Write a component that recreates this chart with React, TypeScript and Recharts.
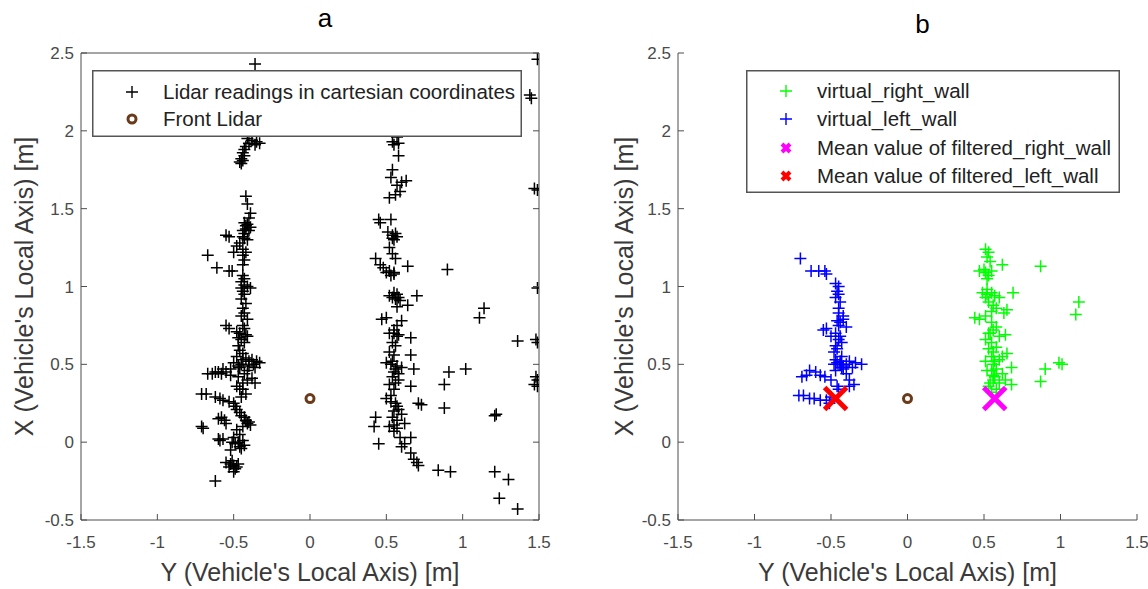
import React from 'react';
import { ScatterChart, Scatter, XAxis, YAxis, Legend } from 'recharts';

const FONT = '"Liberation Sans", Arial, Helvetica, sans-serif';
const AX = '#4d4d4d';
const TICKC = '#4a4a4a';
const LABC = '#3a3a3a';

const xTicks = [-1.5, -1, -0.5, 0, 0.5, 1, 1.5];
const yTicks = [-0.5, 0, 0.5, 1, 1.5, 2, 2.5];
const titleA = 'a';
const titleB = 'b';
const xLabel = "Y (Vehicle's Local Axis) [m]";
const yLabel = "X (Vehicle's Local Axis) [m]";
const legendA = ['Lidar readings in cartesian coordinates', 'Front Lidar'];
const legendB = ['virtual_right_wall', 'virtual_left_wall', 'Mean value of filtered_right_wall', 'Mean value of filtered_left_wall'];

// [Y (lateral), X (forward)]
const lidarLeftA: [number, number][] = [
  [-0.36, 2.43],
  [-0.41, 1.95], [-0.38, 1.94], [-0.35, 1.93], [-0.33, 1.92], [-0.40, 1.92], [-0.36, 1.91], [-0.42, 1.90], [-0.43, 1.88],
  [-0.44, 1.86], [-0.43, 1.84], [-0.45, 1.82], [-0.46, 1.80], [-0.45, 1.79], [-0.44, 1.81],
  [-0.42, 1.58], [-0.41, 1.53], [-0.39, 1.47], [-0.40, 1.44], [-0.43, 1.41], [-0.41, 1.40], [-0.39, 1.38], [-0.42, 1.37],
  [-0.44, 1.36], [-0.43, 1.34], [-0.55, 1.33], [-0.53, 1.32], [-0.43, 1.31], [-0.41, 1.30], [-0.46, 1.28], [-0.48, 1.26],
  [-0.44, 1.24], [-0.50, 1.22], [-0.42, 1.22], [-0.44, 1.20], [-0.67, 1.20], [-0.43, 1.17], [-0.44, 1.14], [-0.61, 1.12],
  [-0.53, 1.10], [-0.51, 1.10], [-0.44, 1.07], [-0.43, 1.05], [-0.45, 1.03], [-0.43, 1.01], [-0.41, 1.00], [-0.45, 0.99],
  [-0.39, 0.99], [-0.44, 0.97],
  [-0.43, 0.95], [-0.45, 0.92], [-0.42, 0.89], [-0.44, 0.86], [-0.43, 0.83], [-0.45, 0.81], [-0.41, 0.79], [-0.55, 0.75],
  [-0.53, 0.73], [-0.48, 0.71], [-0.46, 0.70], [-0.41, 0.68], [-0.45, 0.66], [-0.43, 0.64], [-0.47, 0.62], [-0.46, 0.59],
  [-0.44, 0.57], [-0.48, 0.55], [-0.42, 0.54], [-0.38, 0.53], [-0.35, 0.52], [-0.33, 0.51], [-0.50, 0.51], [-0.45, 0.50],
  [-0.40, 0.49], [-0.36, 0.48], [-0.57, 0.47], [-0.62, 0.45], [-0.60, 0.45], [-0.67, 0.44], [-0.64, 0.44], [-0.43, 0.44],
  [-0.47, 0.42], [-0.38, 0.41], [-0.36, 0.38], [-0.44, 0.38], [-0.48, 0.36], [-0.46, 0.34], [-0.71, 0.31], [-0.68, 0.31],
  [-0.62, 0.29], [-0.59, 0.28], [-0.57, 0.27], [-0.53, 0.26], [-0.50, 0.25], [-0.49, 0.23], [-0.48, 0.21], [-0.46, 0.19],
  [-0.45, 0.17], [-0.43, 0.16], [-0.42, 0.14], [-0.41, 0.12], [-0.60, 0.15], [-0.56, 0.14], [-0.55, 0.12], [-0.71, 0.10],
  [-0.70, 0.09], [-0.48, 0.08], [-0.46, 0.05], [-0.50, 0.03], [-0.57, 0.02], [-0.59, 0.01], [-0.44, 0.01], [-0.43, -0.02],
  [-0.45, -0.04], [-0.52, -0.05], [-0.49, -0.01], [-0.55, -0.13], [-0.52, -0.14], [-0.50, -0.15], [-0.48, -0.16],
  [-0.47, -0.14], [-0.50, -0.19], [-0.62, -0.25], [-0.58, 0.16], [-0.46, 0.48], [-0.52, 0.47],
  [-0.40, 0.52], [-0.44, 0.53], [-0.37, 0.50], [-0.47, 0.49], [-0.41, 0.46], [-0.55, 0.45], [-0.58, 0.44], [-0.52, 0.43],
  [-0.44, 0.34], [-0.42, 0.31], [-0.45, 0.29], [-0.40, 0.13], [-0.39, 0.11], [-0.44, 0.10], [-0.51, 0.00], [-0.47, 0.00],
  [-0.46, -0.03], [-0.53, -0.16], [-0.49, -0.17], [-0.51, -0.12], [-0.43, 0.73], [-0.44, 0.75], [-0.42, 0.69], [-0.47, 0.67],
  [-0.42, 1.39], [-0.40, 1.36], [-0.44, 1.32], [-0.60, 0.02], [-0.41, 0.40],
];

const lidarRightA: [number, number][] = [
  [0.57, 1.96], [0.54, 1.93], [0.58, 1.92], [0.55, 1.91], [0.58, 1.84], [0.54, 1.75], [0.53, 1.70], [0.63, 1.68],
  [0.60, 1.67], [0.57, 1.65], [0.59, 1.61], [0.56, 1.59], [0.52, 1.57], [0.45, 1.43], [0.46, 1.41], [0.53, 1.43],
  [0.51, 1.35], [0.54, 1.33], [0.57, 1.32], [0.55, 1.30], [0.52, 1.25], [0.54, 1.21], [0.56, 1.18], [0.43, 1.18],
  [0.46, 1.14], [0.48, 1.12], [0.64, 1.13], [0.52, 1.10], [0.55, 1.08], [0.50, 1.09], [0.90, 1.11], [0.55, 0.96],
  [0.57, 0.95], [0.52, 0.94], [0.54, 0.93], [0.70, 0.94], [0.59, 0.91], [0.64, 0.88], [0.57, 0.87], [0.47, 0.79],
  [0.50, 0.80], [0.60, 0.78], [0.57, 0.75], [0.55, 0.72], [0.52, 0.70], [0.58, 0.69], [0.66, 0.67], [0.54, 0.64],
  [0.56, 0.62], [0.52, 0.58], [0.55, 0.56], [0.66, 0.56], [0.50, 0.51], [0.53, 0.50], [0.57, 0.49], [0.60, 0.48],
  [0.68, 0.47], [0.55, 0.45], [0.54, 0.42], [0.58, 0.40], [0.52, 0.37], [0.66, 0.36], [0.55, 0.34], [0.50, 0.28],
  [0.53, 0.26], [0.71, 0.25], [0.73, 0.24], [0.57, 0.23], [0.55, 0.20], [0.60, 0.18], [0.43, 0.16], [0.54, 0.16],
  [0.57, 0.14], [0.42, 0.10], [0.52, 0.10], [0.62, 0.12], [0.55, 0.07], [0.59, 0.03], [0.45, -0.01], [0.62, -0.01],
  [0.60, -0.03], [0.66, -0.07], [0.68, -0.11], [0.70, -0.13], [0.71, -0.15], [0.66, 0.03],
  [0.56, 0.92], [0.58, 0.93], [0.55, 0.70], [0.57, 0.68], [0.54, 0.52], [0.56, 0.47], [0.58, 0.44], [0.56, 0.38],
  [0.53, 0.30], [0.56, 0.25], [0.58, 0.21], [0.55, 0.11], [0.57, 0.09], [0.54, 1.31], [0.56, 1.34], [0.55, 1.09],
  [0.53, 1.07],
];

const lidarFarA: [number, number][] = [
  [1.49, 2.46], [1.44, 2.23], [1.45, 2.21], [1.47, 1.63], [1.49, 1.62], [1.49, 0.99], [1.14, 0.86], [1.11, 0.80],
  [1.36, 0.65], [1.48, 0.66], [1.49, 0.64], [1.02, 0.47], [0.91, 0.45], [0.88, 0.37], [1.48, 0.42], [1.49, 0.40],
  [1.47, 0.37], [1.49, 0.36], [0.88, 0.22], [1.22, 0.18], [1.21, 0.17], [0.84, -0.18], [0.92, -0.19], [1.21, -0.19],
  [1.30, -0.24], [1.24, -0.36], [1.36, -0.43],
];

const frontLidar: [number, number][] = [[0, 0.28]];

const leftWallB: [number, number][] = [
  [-0.70, 1.18], [-0.63, 1.10], [-0.58, 1.10], [-0.54, 1.10], [-0.53, 1.08], [-0.47, 1.02], [-0.45, 1.00], [-0.46, 0.97],
  [-0.45, 0.95], [-0.47, 0.93], [-0.44, 0.90], [-0.45, 0.86], [-0.45, 0.83], [-0.42, 0.81], [-0.42, 0.79], [-0.44, 0.77],
  [-0.40, 0.74], [-0.55, 0.72], [-0.53, 0.73], [-0.47, 0.70], [-0.50, 0.68], [-0.45, 0.66], [-0.43, 0.64], [-0.47, 0.62],
  [-0.46, 0.60], [-0.48, 0.58], [-0.47, 0.53], [-0.44, 0.52], [-0.38, 0.52], [-0.34, 0.51], [-0.30, 0.50], [-0.48, 0.50],
  [-0.42, 0.49], [-0.36, 0.48], [-0.42, 0.47], [-0.47, 0.46], [-0.64, 0.46], [-0.60, 0.45], [-0.69, 0.42], [-0.66, 0.43],
  [-0.57, 0.43], [-0.54, 0.42], [-0.50, 0.40], [-0.38, 0.40], [-0.35, 0.37], [-0.38, 0.36], [-0.45, 0.34], [-0.46, 0.36],
  [-0.71, 0.30], [-0.68, 0.30], [-0.64, 0.28], [-0.61, 0.28], [-0.57, 0.27], [-0.53, 0.27], [-0.50, 0.29], [-0.51, 0.25],
  [-0.43, 0.55], [-0.40, 0.44],
  [-0.46, 0.51], [-0.44, 0.50], [-0.40, 0.50], [-0.43, 0.48], [-0.45, 0.75], [-0.46, 0.78], [-0.44, 0.68],
];

const rightWallB: [number, number][] = [
  [0.51, 1.24], [0.53, 1.22], [0.52, 1.19], [0.54, 1.16], [0.62, 1.14], [0.87, 1.13], [0.47, 1.10], [0.50, 1.11],
  [0.51, 1.09], [0.53, 1.07], [0.55, 1.10], [0.52, 1.05], [0.49, 0.96], [0.52, 0.95], [0.55, 0.96], [0.57, 0.94],
  [0.69, 0.96], [0.60, 0.93], [1.12, 0.90], [1.10, 0.82], [0.51, 0.93], [0.53, 0.90], [0.56, 0.88], [0.58, 0.86],
  [0.63, 0.83], [0.65, 0.85], [0.44, 0.80], [0.47, 0.79], [0.51, 0.81], [0.55, 0.77], [0.56, 0.72], [0.58, 0.74],
  [0.53, 0.70], [0.64, 0.69], [0.60, 0.68], [0.51, 0.66], [0.55, 0.64], [0.58, 0.61], [0.53, 0.60], [0.65, 0.57],
  [0.62, 0.55], [0.55, 0.55], [0.51, 0.52], [0.56, 0.50], [0.60, 0.53], [0.58, 0.47], [0.68, 0.48], [0.52, 0.46],
  [0.56, 0.43], [0.62, 0.44], [0.56, 0.40], [0.53, 0.36], [0.60, 0.38], [0.68, 0.37], [0.64, 0.40], [1.01, 0.50],
  [0.99, 0.51], [0.90, 0.47], [0.87, 0.39], [0.58, 0.34], [0.55, 0.32],
  [0.54, 0.70], [0.56, 0.58], [0.57, 0.52], [0.55, 0.46], [0.57, 0.42], [0.54, 0.38], [0.55, 0.84], [0.52, 0.98],
];

const meanRight: [number, number][] = [[0.57, 0.28]];
const meanLeft: [number, number][] = [[-0.47, 0.28]];

const toPts = (arr: [number, number][]) => arr.map(([y, x]) => ({ y, x }));

const fmt = (v: number) => String(v);

const plusShape = (color: string, arm = 6, sw = 1.5) => (p: any) => {
  const { cx, cy } = p;
  if (cx == null || cy == null) return <g />;
  return (
    <path d={`M${cx - arm},${cy}H${cx + arm}M${cx},${cy - arm}V${cy + arm}`} stroke={color} strokeWidth={sw} fill="none" />
  );
};
const crossShape = (color: string, arm = 11, sw = 5) => (p: any) => {
  const { cx, cy } = p;
  if (cx == null || cy == null) return <g />;
  return (
    <path d={`M${cx - arm},${cy - arm}L${cx + arm},${cy + arm}M${cx + arm},${cy - arm}L${cx - arm},${cy + arm}`} stroke={color} strokeWidth={sw} fill="none" />
  );
};
const ringShape = (p: any) => {
  const { cx, cy } = p;
  if (cx == null || cy == null) return <g />;
  return <circle cx={cx} cy={cy} r={4} fill="#fff" stroke="#6b3a1a" strokeWidth={3} />;
};

const LeftTick = (p: any) => {
  const { x, y, payload } = p;
  return (
    <g>
      <line x1={x} y1={y} x2={x + 6} y2={y} stroke={AX} strokeWidth={1} />
      <text x={x - 7} y={y} dy="0.36em" textAnchor="end" fontSize={17} fill={TICKC} fontFamily={FONT}>{fmt(payload.value)}</text>
    </g>
  );
};
const BottomTick = (p: any) => {
  const { x, y, payload } = p;
  return (
    <g>
      <line x1={x} y1={y} x2={x} y2={y - 6} stroke={AX} strokeWidth={1} />
      <text x={x} y={y + 28} textAnchor="middle" fontSize={17} fill={TICKC} fontFamily={FONT}>{fmt(payload.value)}</text>
    </g>
  );
};
const TopTick = (p: any) => {
  const { x, y } = p;
  return <line x1={x} y1={y} x2={x} y2={y + 6} stroke={AX} strokeWidth={1} />;
};
const RightTick = (p: any) => {
  const { x, y } = p;
  return <line x1={x} y1={y} x2={x - 6} y2={y} stroke={AX} strokeWidth={1} />;
};

const xLabelContent = (p: any) => {
  const vb = p.viewBox || {};
  return (
    <text x={vb.x + vb.width / 2} y={vb.y + 61} textAnchor="middle" fontSize={25} fill={LABC} fontFamily={FONT}>{xLabel}</text>
  );
};
const yLabelContent = (off: number) => (p: any) => {
  const vb = p.viewBox || {};
  const cx = vb.x + (vb.width || 0) - off;
  const cy = vb.y + vb.height / 2;
  return (
    <text x={cx} y={cy} transform={`rotate(-90 ${cx} ${cy})`} textAnchor="middle" fontSize={25} fill={LABC} fontFamily={FONT}>{yLabel}</text>
  );
};
const titleContent = (t: string, base: number) => (p: any) => {
  const vb = p.viewBox || {};
  return (
    <text x={vb.x + vb.width / 2 + 15} y={base} textAnchor="middle" fontSize={26} fill="#000" fontFamily={FONT}>{t}</text>
  );
};

type Row = { label: string; kind: 'plus' | 'ring' | 'cross'; color: string; cy: number };

const LegendBox = ({ rows, width, height }: { rows: Row[]; width: number; height: number }) => (
  <svg width={width} height={height} style={{ display: 'block' }}>
    <rect x={0.75} y={0.75} width={width - 1.5} height={height - 1.5} fill="#fff" stroke="#555" strokeWidth={1.5} />
    {rows.map((r, i) => {
      const mx = 40;
      let marker: React.ReactNode = null;
      if (r.kind === 'plus') marker = <path d={`M${mx - 6},${r.cy}H${mx + 6}M${mx},${r.cy - 6}V${r.cy + 6}`} stroke={r.color} strokeWidth={1.4} />;
      if (r.kind === 'ring') marker = <circle cx={mx} cy={r.cy} r={4} fill="#fff" stroke={r.color} strokeWidth={3} />;
      if (r.kind === 'cross') marker = <path d={`M${mx - 4},${r.cy - 4}L${mx + 4},${r.cy + 4}M${mx + 4},${r.cy - 4}L${mx - 4},${r.cy + 4}`} stroke={r.color} strokeWidth={4} />;
      return (
        <g key={i}>
          {marker}
          <text x={71} y={r.cy + 7} fontSize={20.5} fill="#222" fontFamily={FONT}>{r.label}</text>
        </g>
      );
    })}
  </svg>
);

const rowsA: Row[] = [
  { label: legendA[0], kind: 'plus', color: '#000', cy: 22 },
  { label: legendA[1], kind: 'ring', color: '#6b3a1a', cy: 49 },
];
const rowsB: Row[] = [
  { label: legendB[0], kind: 'plus', color: '#00ff00', cy: 21 },
  { label: legendB[1], kind: 'plus', color: '#0000ff', cy: 49 },
  { label: legendB[2], kind: 'cross', color: '#ff00ff', cy: 78 },
  { label: legendB[3], kind: 'cross', color: '#ff0000', cy: 106 },
];

export default function App() {
  return (
    <div style={{ position: 'absolute', left: 0, top: 0, width: 1148, height: 589, background: '#fff' }}>
      <div style={{ position: 'absolute', left: 0, top: 0 }}>
        <ScatterChart width={574} height={589} margin={{ top: 52, right: 34, bottom: 68, left: 80 }}>
          <XAxis type="number" dataKey="y" domain={[-1.5, 1.5]} ticks={xTicks} height={1} tickSize={0} tickMargin={0}
            tickLine={false} tick={BottomTick} axisLine={{ stroke: AX }} allowDataOverflow label={xLabelContent} interval={0} />
          <XAxis xAxisId="top" orientation="top" type="number" domain={[-1.5, 1.5]} ticks={xTicks} height={1} tickSize={0}
            tickMargin={0} tickLine={false} tick={TopTick} axisLine={{ stroke: AX }} allowDataOverflow label={titleContent(titleA, 27)} interval={0} />
          <YAxis type="number" dataKey="x" domain={[-0.5, 2.5]} ticks={yTicks} width={1} tickSize={0} tickMargin={0}
            tickLine={false} tick={LeftTick} axisLine={{ stroke: AX }} allowDataOverflow label={yLabelContent(48)} interval={0} />
          <YAxis yAxisId="right" orientation="right" type="number" domain={[-0.5, 2.5]} ticks={yTicks} width={1} tickSize={0}
            tickMargin={0} tickLine={false} tick={RightTick} axisLine={{ stroke: AX }} allowDataOverflow interval={0} />
          <Scatter data={toPts(lidarLeftA)} shape={plusShape('#000')} isAnimationActive={false} />
          <Scatter data={toPts(lidarRightA)} shape={plusShape('#000')} isAnimationActive={false} />
          <Scatter data={toPts(lidarFarA)} shape={plusShape('#000')} isAnimationActive={false} />
          <Scatter data={toPts(frontLidar)} shape={ringShape} isAnimationActive={false} />
          <Legend layout="horizontal" verticalAlign="middle" align="center"
            wrapperStyle={{ left: 92, top: 70, width: 430, height: 67 }}
            content={() => <LegendBox rows={rowsA} width={430} height={67} />} />
        </ScatterChart>
      </div>
      <div style={{ position: 'absolute', left: 574, top: 0 }}>
        <ScatterChart width={574} height={589} margin={{ top: 52, right: 11, bottom: 68, left: 103 }}>
          <XAxis type="number" dataKey="y" domain={[-1.5, 1.5]} ticks={xTicks} height={1} tickSize={0} tickMargin={0}
            tickLine={false} tick={BottomTick} axisLine={{ stroke: AX }} allowDataOverflow label={xLabelContent} interval={0} />
          <XAxis xAxisId="top" orientation="top" type="number" domain={[-1.5, 1.5]} ticks={xTicks} height={1} tickSize={0}
            tickMargin={0} tickLine={false} tick={false} axisLine={false} allowDataOverflow label={titleContent(titleB, 33)} />
          <YAxis type="number" dataKey="x" domain={[-0.5, 2.5]} ticks={yTicks} width={1} tickSize={0} tickMargin={0}
            tickLine={false} tick={LeftTick} axisLine={{ stroke: AX }} allowDataOverflow label={yLabelContent(45)} interval={0} />
          <Scatter data={toPts(leftWallB)} shape={plusShape('#0000ff')} isAnimationActive={false} />
          <Scatter data={toPts(rightWallB)} shape={plusShape('#00ff00')} isAnimationActive={false} />
          <Scatter data={toPts(frontLidar)} shape={ringShape} isAnimationActive={false} />
          <Scatter data={toPts(meanLeft)} shape={crossShape('#ff0000')} isAnimationActive={false} />
          <Scatter data={toPts(meanRight)} shape={crossShape('#ff00ff')} isAnimationActive={false} />
          <Legend layout="horizontal" verticalAlign="middle" align="center"
            wrapperStyle={{ left: 172, top: 70, width: 374, height: 123 }}
            content={() => <LegendBox rows={rowsB} width={374} height={123} />} />
        </ScatterChart>
      </div>
    </div>
  );
}
